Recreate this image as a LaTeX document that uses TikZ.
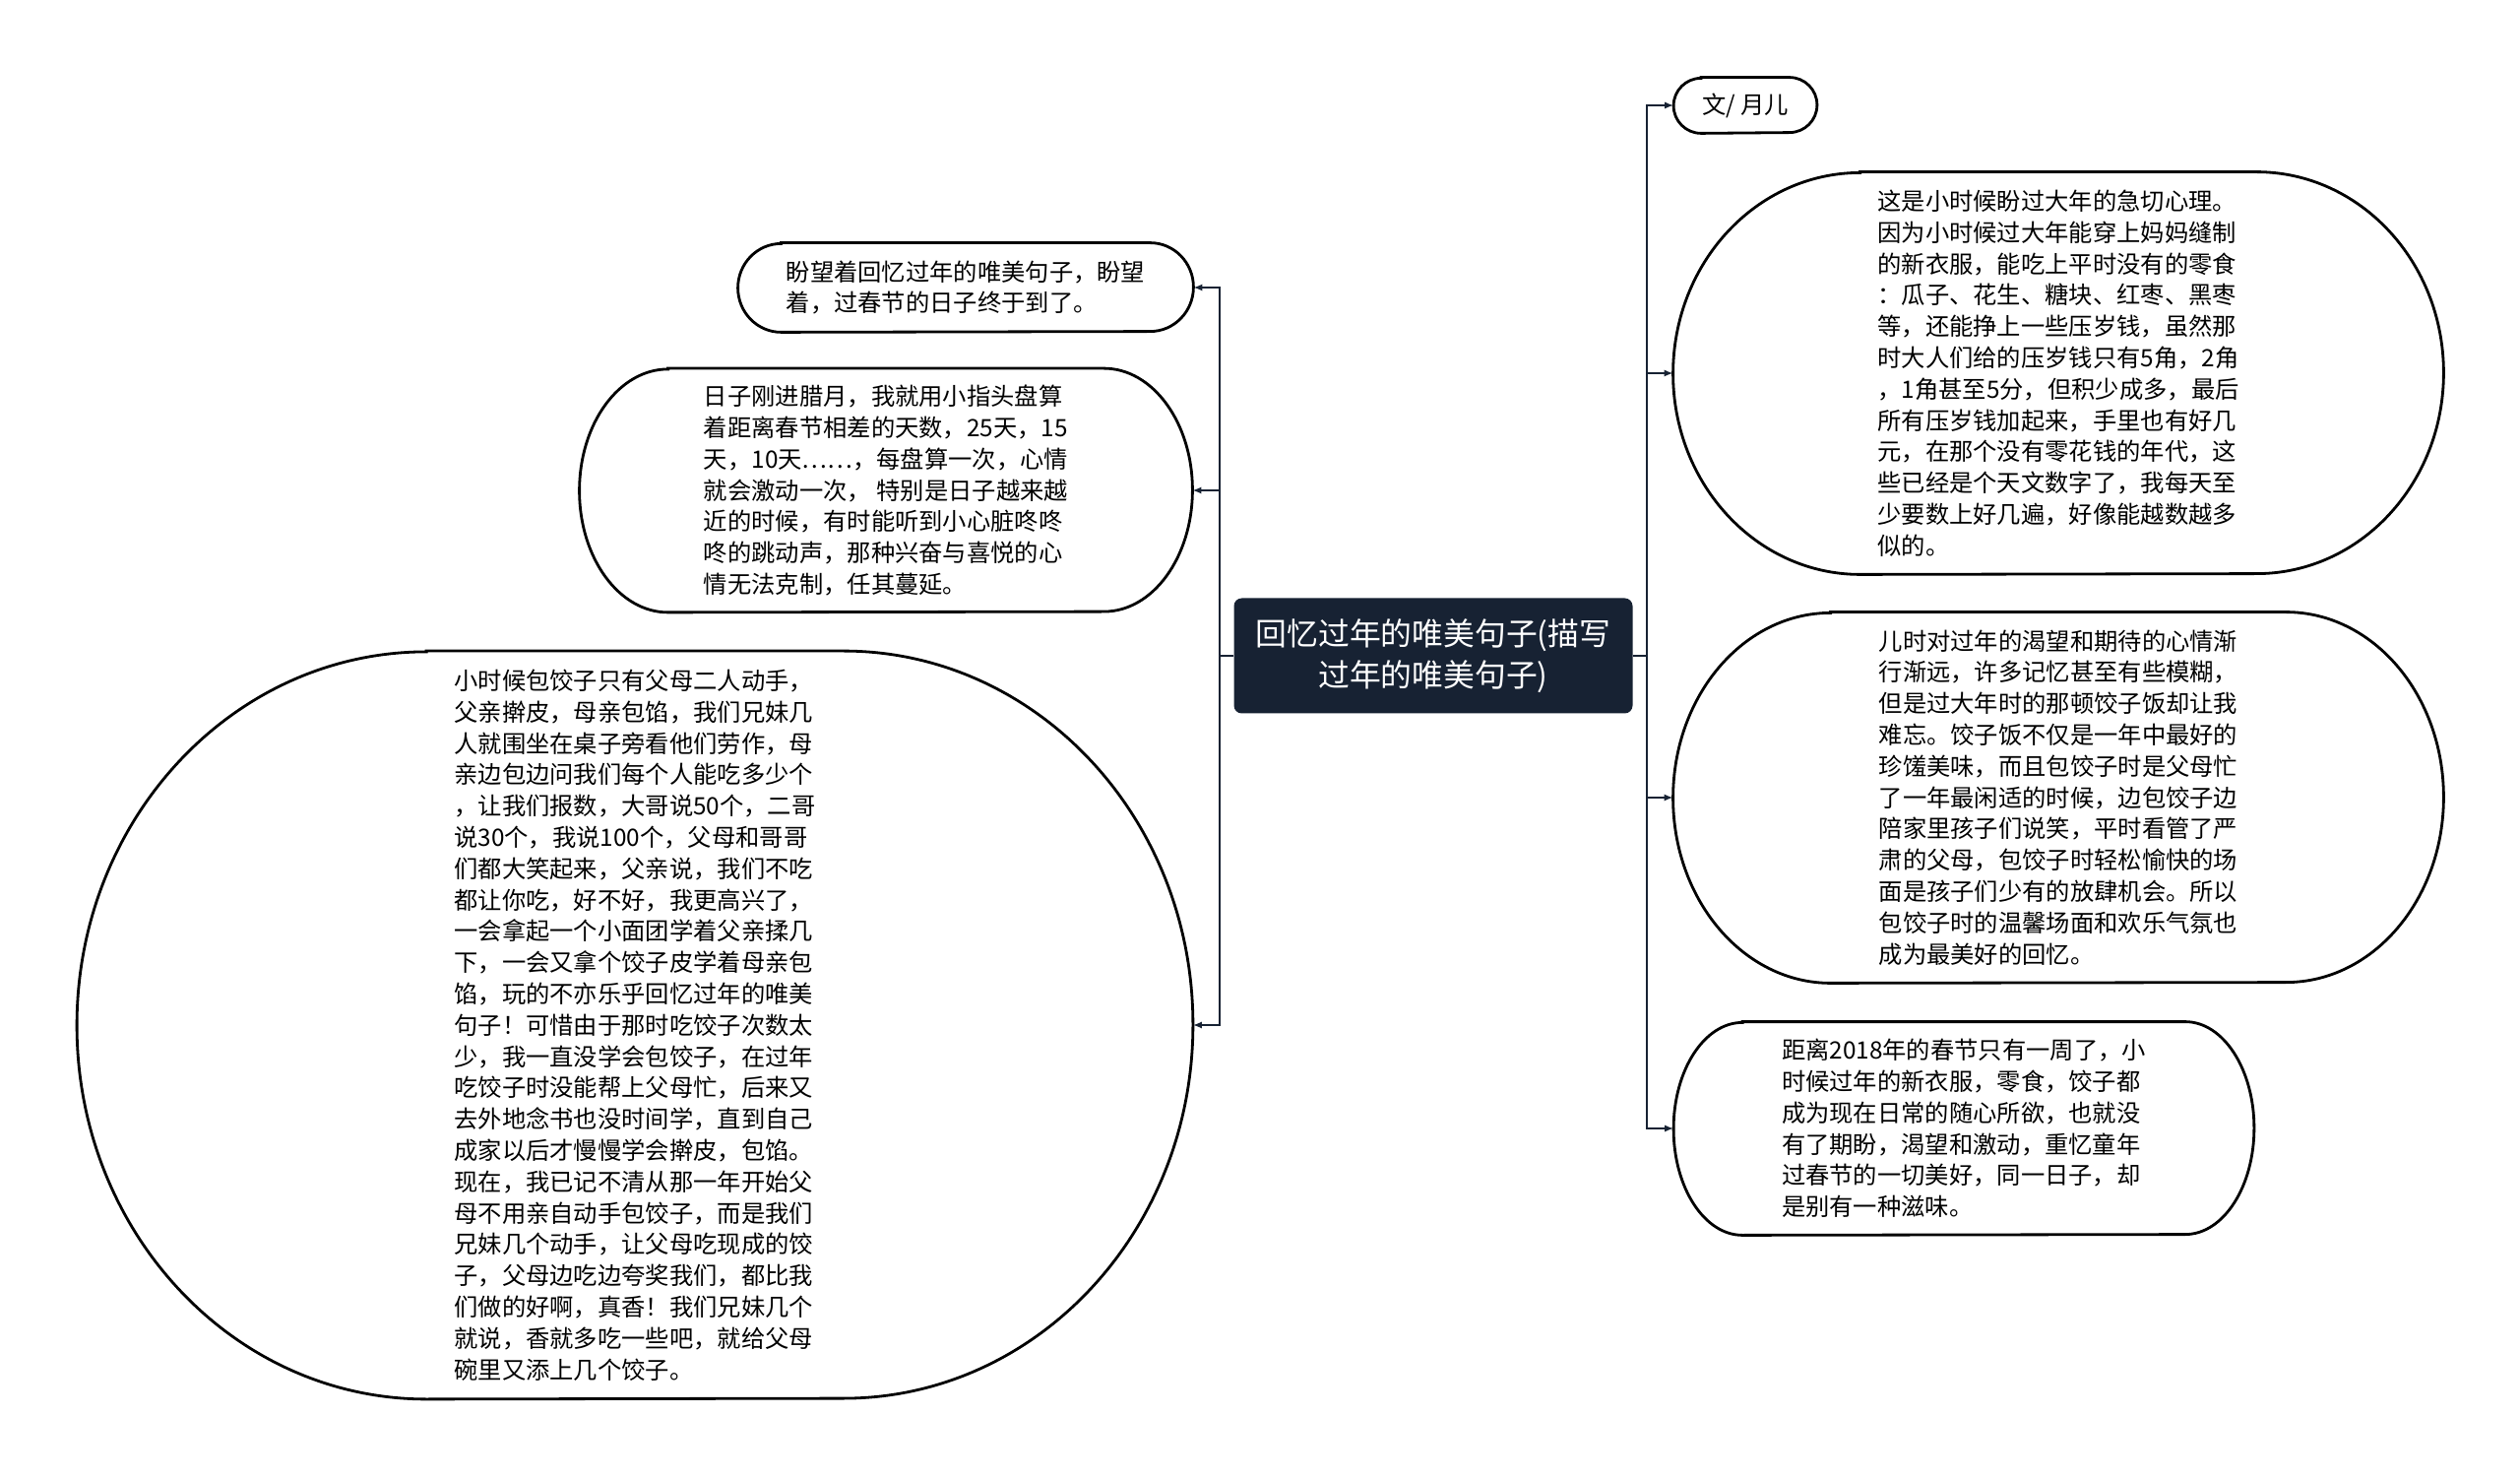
\documentclass[tikz,border=0pt]{standalone}
\usepackage{fontspec}
\usepackage{tikz}
\usetikzlibrary{arrows.meta,calc}
\usepackage{xcolor}
\newfontfamily\cjk{Noto Sans CJK SC}
\definecolor{navy}{HTML}{172233}
\newcommand{\leaffont}{\cjk\fontsize{12.15}{15.9}\selectfont}
\newcommand{\rootfont}{\cjk\fontsize{15.9}{21}\selectfont}
% outline with half-elliptic ends: node, y radius, x radius
\newcommand{\pillline}[3]{%
  \draw[frame] ($(#1.north west)+(#3,0pt)$) -- ($(#1.north east)+(-#3,0pt)$)
    arc[start angle=90,end angle=-90,x radius=#3,y radius=#2]
    -- ($(#1.south west)+(#3,0pt)$)
    arc[start angle=270,end angle=90,x radius=#3,y radius=#2] -- cycle;}

\begin{document}
\begin{tikzpicture}[x=0.5pt,y=0.5pt,>=Latex,
  leaf/.style={font=\leaffont,align=left,inner sep=0pt},
  frame/.style={draw=black,line width=1.4pt},
  rootbox/.style={fill=navy,rounded corners=4pt,text=white,font=\rootfont,align=center,minimum width=202.5pt,minimum height=58.5pt,inner sep=0pt},
  arr/.style={-{Latex[length=4.5pt,width=3.6pt]},line width=1.1pt,draw=navy}]
\useasboundingbox (0,0) rectangle (2560,1501);
\node[rootbox] (root) at (1456,835) {回忆过年的唯美句子(描写\\过年的唯美句子)};
\coordinate (lbus) at (1239,835);
\coordinate (rbus) at (1673,835);
\node[leaf,minimum width=231pt,minimum height=45pt] (panwang) at (981,1209) {盼望着回忆过年的唯美句子，盼望\\着，过春节的日子终于到了。};
\node[leaf,minimum width=311pt,minimum height=123.5pt] (layue) at (900,1003) {日子刚进腊月，我就用小指头盘算\\着距离春节相差的天数，25天，15\\天，10天……，每盘算一次，心情\\就会激动一次， 特别是日子越来越\\近的时候，有时能听到小心脏咚咚\\咚的跳动声，那种兴奋与喜悦的心\\情无法克制，任其蔓延。};
\node[leaf,minimum width=566.5pt,minimum height=379.5pt] (jiaozi) at (645,460) {小时候包饺子只有父母二人动手，\\父亲擀皮，母亲包馅，我们兄妹几\\人就围坐在桌子旁看他们劳作，母\\亲边包边问我们每个人能吃多少个\\，让我们报数，大哥说50个，二哥\\说30个，我说100个，父母和哥哥\\们都大笑起来，父亲说，我们不吃\\都让你吃，好不好，我更高兴了，\\一会拿起一个小面团学着父亲揉几\\下，一会又拿个饺子皮学着母亲包\\馅，玩的不亦乐乎回忆过年的唯美\\句子！可惜由于那时吃饺子次数太\\少，我一直没学会包饺子，在过年\\吃饺子时没能帮上父母忙，后来又\\去外地念书也没时间学，直到自己\\成家以后才慢慢学会擀皮，包馅。\\现在，我已记不清从那一年开始父\\母不用亲自动手包饺子，而是我们\\兄妹几个动手，让父母吃现成的饺\\子，父母边吃边夸奖我们，都比我\\们做的好啊，真香！我们兄妹几个\\就说，香就多吃一些吧，就给父母\\碗里又添上几个饺子。};
\node[leaf,minimum width=72.5pt,minimum height=28pt] (author) at (1773,1394) {文/ 月儿};
\node[leaf,minimum width=391pt,minimum height=204pt] (jiqie) at (2091,1122) {这是小时候盼过大年的急切心理。\\因为小时候过大年能穿上妈妈缝制\\的新衣服，能吃上平时没有的零食\\：瓜子、花生、糖块、红枣、黑枣\\等，还能挣上一些压岁钱，虽然那\\时大人们给的压岁钱只有5角，2角\\，1角甚至5分，但积少成多，最后\\所有压岁钱加起来，手里也有好几\\元，在那个没有零花钱的年代，这\\些已经是个天文数字了，我每天至\\少要数上好几遍，好像能越数越多\\似的。};
\node[leaf,minimum width=391pt,minimum height=188pt] (kewang) at (2091,691) {儿时对过年的渴望和期待的心情渐\\行渐远，许多记忆甚至有些模糊，\\但是过大年时的那顿饺子饭却让我\\难忘。饺子饭不仅是一年中最好的\\珍馐美味，而且包饺子时是父母忙\\了一年最闲适的时候，边包饺子边\\陪家里孩子们说笑，平时看管了严\\肃的父母，包饺子时轻松愉快的场\\面是孩子们少有的放肆机会。所以\\包饺子时的温馨场面和欢乐气氛也\\成为最美好的回忆。};
\node[leaf,minimum width=294.5pt,minimum height=108pt] (yizhou) at (1995,355) {距离2018年的春节只有一周了，小\\时候过年的新衣服，零食，饺子都\\成为现在日常的随心所欲，也就没\\有了期盼，渴望和激动，重忆童年\\过春节的一切美好，同一日子，却\\是别有一种滋味。};
\pillline{panwang}{22.5pt}{22pt}
\pillline{layue}{61.75pt}{45pt}
\pillline{jiaozi}{189.75pt}{177.5pt}
\pillline{author}{14pt}{14pt}
\pillline{jiqie}{102pt}{95pt}
\pillline{kewang}{94pt}{80pt}
\pillline{yizhou}{54pt}{35pt}
\draw[arr] (root.west) -- (lbus) |- (panwang.east);
\draw[arr] (root.west) -- (lbus) |- (layue.east);
\draw[arr] (root.west) -- (lbus) |- (jiaozi.east);
\draw[arr] (root.east) -- (rbus) |- (author.west);
\draw[arr] (root.east) -- (rbus) |- (jiqie.west);
\draw[arr] (root.east) -- (rbus) |- (kewang.west);
\draw[arr] (root.east) -- (rbus) |- (yizhou.west);
\end{tikzpicture}
\end{document}
